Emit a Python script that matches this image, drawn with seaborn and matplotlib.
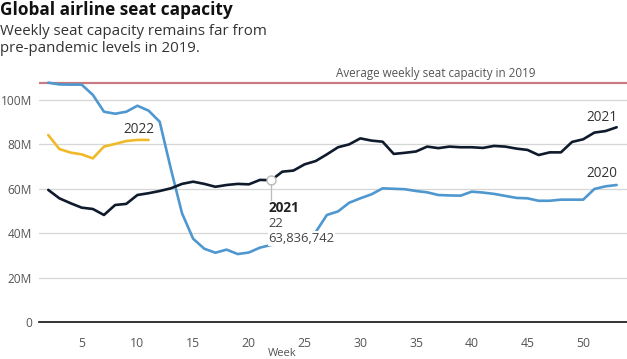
import numpy as np
import pandas as pd
import matplotlib
matplotlib.use("Agg")
import matplotlib.pyplot as plt
import seaborn as sns

# ---------------- data (millions of seats) ----------------
weeks_2020 = list(range(2, 54))
seats_2020 = [107.8, 107.0, 106.9, 106.9, 102.3, 94.7, 93.8, 94.7, 97.4, 95.2,
              90.2, 69.0, 49.0, 37.5, 33.0, 31.2, 32.6, 30.6, 31.3, 33.5,
              34.7, 35.5, 36.0, 37.0, 40.5, 48.2, 49.8, 53.7, 55.7, 57.5,
              60.2, 60.0, 59.8, 59.0, 58.4, 57.2, 57.0, 56.9, 58.7, 58.3,
              57.7, 56.8, 55.9, 55.7, 54.6, 54.6, 55.1, 55.1, 55.1, 59.9,
              61.1, 61.7]
weeks_2021 = list(range(2, 54))
seats_2021 = [59.5, 55.7, 53.5, 51.5, 50.9, 48.2, 52.7, 53.2, 57.2, 58.0,
              59.0, 60.2, 62.2, 63.2, 62.2, 60.9, 61.7, 62.2, 62.0, 64.0,
              63.84, 67.7, 68.2, 71.0, 72.5, 75.5, 78.7, 80.0, 82.7, 81.7,
              81.2, 75.7, 76.2, 76.8, 79.0, 78.3, 79.0, 78.7, 78.7, 78.4,
              79.3, 79.0, 78.1, 77.5, 75.2, 76.4, 76.4, 81.1, 82.3, 85.3,
              86.0, 87.7]
weeks_2022 = list(range(2, 12))
seats_2022 = [84.2, 77.9, 76.3, 75.5, 73.7, 79.0, 80.2, 81.5, 82.0, 82.0]

avg_2019 = 107.5
y_ticks = [0, 20, 40, 60, 80, 100]
y_tick_labels = ["0", "20M", "40M", "60M", "80M", "100M"]
x_ticks = [5, 10, 15, 20, 25, 30, 35, 40, 45, 50]

tooltip_year = "2021"
tooltip_week = 22
tooltip_value = 63836742

years = ["2020", "2021", "2022"]
colors = {"2020": "#4f97cf", "2021": "#0f1a2c", "2022": "#f0b92a"}

df = pd.concat([
    pd.DataFrame({"week": weeks_2020, "seats": seats_2020, "year": "2020"}),
    pd.DataFrame({"week": weeks_2021, "seats": seats_2021, "year": "2021"}),
    pd.DataFrame({"week": weeks_2022, "seats": seats_2022, "year": "2022"}),
], ignore_index=True)

# ---------------- style ----------------
sns.set_style("white")
plt.rcParams["font.family"] = ["Open Sans", "DejaVu Sans"]

fig = plt.figure(figsize=(6.27, 3.59), dpi=100)
ax = fig.add_axes([39 / 627, 37 / 359, 1 - 39 / 627, 262 / 359])

sns.lineplot(data=df, x="week", y="seats", hue="year", hue_order=years,
             palette=colors, linewidth=1.9, ax=ax, legend=False,
             estimator=None, sort=True, zorder=3)

# 2019 average line
ax.axhline(avg_2019, color="#c87a80", linewidth=1.6, zorder=2)
ax.text(45.75, avg_2019 + 1.3, "Average weekly seat capacity in 2019",
        ha="right", va="bottom", fontsize=8.4, color="#555555")

# axes styling
ax.set_xlim(1.17, 53.93)
ax.set_ylim(0, 118)
ax.set_yticks(y_ticks)
ax.set_yticklabels(y_tick_labels)
ax.set_xticks(x_ticks)
ax.grid(axis="y", color="#d6d6d6", linewidth=0.9, zorder=0)
ax.grid(axis="x", visible=False)
for s in ["top", "right", "left"]:
    ax.spines[s].set_visible(False)
ax.spines["bottom"].set_color("#111111")
ax.spines["bottom"].set_linewidth(1.2)
ax.spines["bottom"].set_zorder(4)
ax.tick_params(axis="y", length=0, pad=5, labelsize=8.6, labelcolor="#555555")
ax.tick_params(axis="x", length=4, width=0.9, color="#111111", pad=7,
               labelsize=8.8, labelcolor="#555555", direction="out")
ax.set_xlabel("")
ax.set_ylabel("")

# series labels
ax.text(10.1, 86.8, "2022", ha="center", va="center", fontsize=9.8, color="#333333")
ax.text(53.1, 92.2, "2021", ha="right", va="center", fontsize=9.8, color="#333333")
ax.text(53.1, 67.0, "2020", ha="right", va="center", fontsize=9.8, color="#333333")

# hover tooltip
tv = tooltip_value / 1e6
ax.plot([tooltip_week], [tv], marker="o", markersize=6.5, markerfacecolor="white",
        markeredgecolor="#bbbbbb", markeredgewidth=1.0, zorder=5)
ax.plot([tooltip_week, tooltip_week], [tv - 1.6, tv - 9.5], color="#bbbbbb",
        linewidth=0.9, zorder=5)
bbox = dict(facecolor="white", edgecolor="none", pad=0.6)
ax.text(tooltip_week - 0.25, 51.2, tooltip_year, ha="left", va="center",
        fontsize=9.8, fontweight="bold", color="#222222", bbox=bbox, zorder=6)
ax.text(tooltip_week - 0.25, 44.2, str(tooltip_week), ha="left", va="center",
        fontsize=9.4, color="#444444", bbox=bbox, zorder=6)
ax.text(tooltip_week - 0.25, 37.7, f"{tooltip_value:,}", ha="left", va="center",
        fontsize=9.4, color="#444444", bbox=bbox, zorder=6)

# titles
fig.text(0.0, 1 - 1 / 359, "Global airline seat capacity", ha="left", va="top",
         fontsize=12.4, fontweight="bold", color="#111111")
fig.text(0.0, 1 - 24 / 359, "Weekly seat capacity remains far from\npre-pandemic levels in 2019.",
         ha="left", va="top", fontsize=10.8, color="#333333", linespacing=1.2)

# x label (at the very bottom edge, as in the reference)
fig.text(282 / 627, 0.5 / 359, "Week", ha="center", va="bottom",
         fontsize=8.0, color="#555555")

fig.savefig("out.png", dpi=100)
